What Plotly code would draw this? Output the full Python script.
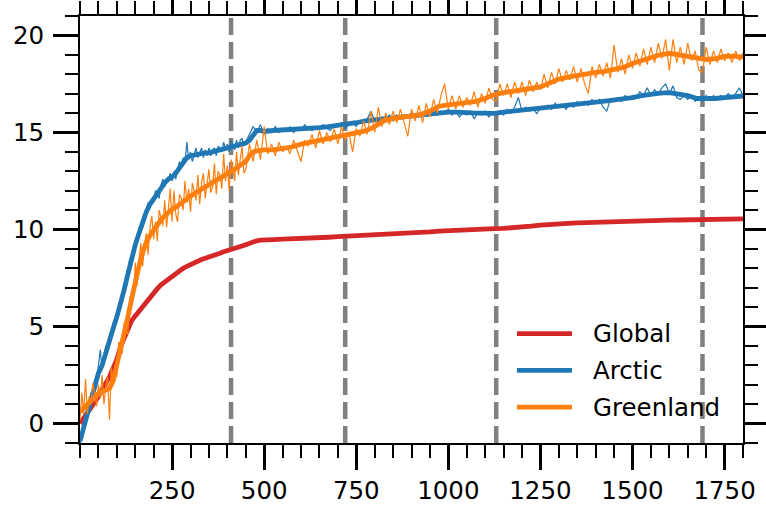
import numpy as np
import plotly.graph_objects as go

# ---- sample years -------------------------------------------------------
# 5 yr sampling early on, decadal afterwards for the raw series
years_raw = np.concatenate([np.arange(0, 450, 5), np.arange(450, 1801, 10)])
# smoothed series: 10 yr up to 500, 25 yr afterwards
years_smooth = np.concatenate([np.arange(0, 501, 10), np.arange(525, 1801, 25)])

# ---- raw (unsmoothed) series -------------------------------------------
arctic_raw = [
    -1.3, -0.3, -0.3, 0.4, 0.3, 1.0, 1.6, 1.4, 2.3, 2.2,
    3.0, 3.8, 2.8, 3.4, 4.0, 3.7, 4.5, 4.5, 5.2, 5.3,
    5.2, 6.0, 6.2, 6.3, 7.2, 7.2, 7.9, 8.5, 8.2, 8.9,
    9.4, 9.3, 10.1, 10.0, 10.1, 10.8, 11.0, 11.4, 11.1, 11.5,
    11.4, 12.0, 11.9, 11.6, 12.3, 12.6, 12.2, 12.6, 12.5, 12.9,
    12.5, 13.0, 12.6, 13.1, 13.5, 13.2, 13.7, 13.4, 14.5, 13.6,
    14.0, 13.5, 13.9, 14.2, 13.7, 14.0, 14.2, 13.7, 14.1, 13.8,
    14.2, 13.8, 14.1, 14.2, 13.8, 14.3, 14.2, 14.0, 14.5, 14.1,
    14.4, 14.0, 14.6, 14.4, 14.1, 14.6, 14.2, 14.6, 14.7, 14.3,
    # decadal from 450
    14.5, 14.9, 15.3, 15.0, 15.4, 14.9, 15.2, 15.0, 15.3, 15.0,
    15.2, 15.1, 15.3, 15.0, 15.2, 15.1, 15.4, 15.2, 15.1, 15.3,
    15.2, 15.4, 15.2, 15.1, 15.4, 15.3, 15.5, 15.2, 15.4, 15.5,
    15.3, 15.6, 15.5, 15.7, 16.1, 15.6, 15.5, 15.8, 15.6, 15.9,
    15.6, 15.9, 15.7, 15.9, 15.8, 16.0, 15.8, 16.0, 15.9, 16.1,
    15.9, 16.2, 15.9, 16.1, 16.0, 16.2, 15.9, 16.1, 15.8, 16.0,
    15.9, 16.1, 15.7, 16.0, 15.9, 16.1, 15.8, 16.0, 15.9, 16.1,
    15.9, 16.2, 16.0, 16.3, 16.8, 16.1, 16.3, 16.1, 16.3, 15.95,
    16.3, 16.2, 16.4, 16.2, 16.5, 16.3, 16.4, 16.2, 16.5, 16.3,
    16.6, 16.4, 16.6, 16.4, 16.7, 16.5, 16.7, 16.3, 16.1, 16.7,
    16.6, 16.8, 16.6, 16.9, 16.7, 16.9, 16.8, 17.1, 16.9, 17.3,
    16.9, 17.2, 17.0, 17.3, 17.5, 17.0, 17.4, 16.8, 16.7, 16.9,
    16.7, 16.9, 16.6, 16.8, 16.6, 16.9, 16.7, 16.9, 16.7, 16.9,
    16.8, 17.0, 16.8, 17.0, 17.3, 16.9,
]

greenland_raw = [
    0.2, 1.6, 0.5, 2.3, 0.5, 1.4, 1.0, 2.1, 1.5, 0.9,
    2.0, 1.3, 2.5, 1.0, 1.9, 2.4, 0.2, 2.9, 2.0, 3.0,
    2.4, 4.2, 4.1, 3.6, 5.2, 4.8, 4.6, 6.5, 6.6, 6.4,
    8.3, 7.1, 8.4, 9.3, 8.1, 9.2, 9.8, 8.7, 10.1, 10.7,
    9.5, 10.4, 9.4, 11.0, 10.6, 10.2, 11.5, 10.1, 11.1, 12.1,
    10.4, 12.0, 10.8, 10.4, 11.8, 11.6, 11.0, 12.5, 11.4, 12.1,
    10.9, 12.4, 12.0, 11.5, 12.8, 11.3, 12.4, 12.9, 11.6, 12.4,
    13.1, 11.9, 12.2, 13.4, 11.8, 13.0, 12.8, 12.1, 13.9, 12.5,
    13.3, 12.0, 13.6, 13.2, 12.5, 14.0, 12.8, 13.6, 14.3, 12.9,
    # decadal from 450
    13.1, 14.4, 13.5, 14.6, 13.6, 15.3, 13.9, 14.4, 13.8, 14.5,
    14.0, 14.3, 13.9, 14.6, 14.1, 13.5, 14.6, 14.3, 14.9, 14.2,
    15.1, 14.4, 15.0, 14.5, 15.2, 14.4, 15.3, 14.6, 15.0, 14.0,
    15.2, 14.8, 15.6, 14.9, 16.1, 15.0, 16.3, 15.3, 16.0, 15.4,
    16.1, 15.5, 16.2, 15.5, 14.8, 16.2, 15.6, 16.4, 15.5, 16.5,
    15.8, 16.7, 16.0, 16.9, 17.5, 16.2, 16.9, 16.2, 16.9, 16.3,
    16.8, 16.4, 17.1, 16.3, 17.0, 16.5, 17.3, 16.7, 16.6, 17.5,
    16.9, 17.5, 16.8, 17.6, 17.0, 17.6, 16.9, 17.7, 17.1, 17.6,
    17.2, 18.0, 17.3, 18.1, 17.5, 18.3, 17.6, 18.2, 17.7, 18.4,
    17.6, 18.3, 17.5, 17.0, 18.4, 17.8, 18.5, 17.9, 18.6, 17.8,
    19.5, 18.1, 18.8, 18.0, 19.0, 18.3, 19.1, 18.4, 19.3, 18.5,
    19.4, 18.6, 19.6, 18.8, 19.8, 18.2, 19.8, 18.6, 19.4, 18.5,
    19.6, 18.7, 19.2, 18.2, 18.1, 19.4, 18.5, 19.2, 18.6, 19.3,
    18.7, 19.1, 18.6, 19.2, 18.7, 19.1,
]

# ---- smoothed series ----------------------------------------------------
global_smooth = [
    0.0, 0.25, 0.55, 0.8, 1.1, 1.4, 1.7, 2.0, 2.4, 2.85,
    3.3, 3.95, 4.45, 4.95, 5.3, 5.55, 5.8, 6.05, 6.25, 6.5,
    6.75, 6.95, 7.15, 7.3, 7.45, 7.6, 7.75, 7.9, 8.0, 8.1,
    8.2, 8.3, 8.38, 8.45, 8.52, 8.6, 8.66, 8.72, 8.78, 8.85,
    8.9, 8.96, 9.02, 9.08, 9.15, 9.22, 9.3, 9.37, 9.42, 9.45, 9.47,
    9.48, 9.5, 9.51, 9.52, 9.55, 9.58, 9.6, 9.63, 9.65, 9.68,
    9.72, 9.75, 9.77, 9.79, 9.8, 9.82, 9.85, 9.88, 9.92, 9.95,
    9.98, 10.0, 10.02, 10.03, 10.05, 10.06, 10.08, 10.12, 10.17, 10.22,
    10.27, 10.3, 10.32, 10.34, 10.36, 10.38, 10.4, 10.42, 10.43, 10.44,
    10.45, 10.46, 10.47, 10.48, 10.49, 10.5, 10.5, 10.51, 10.52, 10.53,
    10.54, 10.55,
]

arctic_smooth = [
    -0.9, -0.2, 0.5, 1.3, 2.1, 2.6, 3.0, 3.7, 4.3, 4.9,
    5.5, 6.1, 6.9, 7.7, 8.5, 9.2, 9.8, 10.4, 10.9, 11.3,
    11.6, 11.8, 12.1, 12.4, 12.6, 12.7, 12.9, 13.2, 13.5, 13.7,
    13.8, 13.85, 13.9, 13.9, 13.95, 13.95, 14.0, 14.05, 14.15, 14.2,
    14.25, 14.3, 14.3, 14.35, 14.4, 14.45, 14.6, 14.9, 15.1, 15.1, 15.05,
    15.1, 15.12, 15.15, 15.2, 15.22, 15.25, 15.3, 15.35, 15.4, 15.5,
    15.6, 15.65, 15.72, 15.8, 15.85, 15.9, 15.95, 16.0, 16.05, 16.05,
    16.05, 16.0, 16.0, 16.0, 15.98, 16.05, 16.1, 16.13, 16.17, 16.2,
    16.25, 16.3, 16.35, 16.42, 16.5, 16.56, 16.62, 16.67, 16.72, 16.8,
    16.9, 16.98, 17.03, 17.05, 17.0, 16.9, 16.75, 16.72, 16.75, 16.8,
    16.85, 16.88,
]

greenland_smooth = [
    0.6, 0.8, 1.0, 1.2, 1.4, 1.55, 1.65, 1.7, 1.8, 2.2,
    3.0, 3.8, 4.5, 5.5, 6.4, 7.3, 8.1, 8.8, 9.35, 9.7,
    10.0, 10.3, 10.5, 10.7, 10.9, 11.05, 11.15, 11.3, 11.45, 11.6,
    11.75, 11.85, 11.95, 12.1, 12.2, 12.3, 12.45, 12.55, 12.65, 12.75,
    12.85, 12.95, 13.1, 13.25, 13.35, 13.5, 13.8, 14.0, 14.05, 14.1, 14.1,
    14.1, 14.15, 14.25, 14.4, 14.5, 14.6, 14.7, 14.78, 14.85, 14.98,
    15.08, 15.3, 15.6, 15.72, 15.8, 15.85, 15.92, 16.1, 16.35, 16.42,
    16.5, 16.55, 16.6, 16.75, 16.95, 17.05, 17.12, 17.2, 17.27, 17.35,
    17.55, 17.75, 17.85, 17.95, 18.02, 18.1, 18.15, 18.22, 18.35, 18.55,
    18.7, 18.85, 19.0, 19.08, 19.0, 18.93, 18.83, 18.76, 18.8, 18.92,
    18.93, 18.88,
]

# years marked with dashed vertical lines
event_years = [410, 720, 1130, 1690]

x_ticks = [250, 500, 750, 1000, 1250, 1500, 1750]
y_ticks = [0, 5, 10, 15, 20]

series_names = ["Global", "Arctic", "Greenland"]
series_colors = ["#d62728", "#1f77b4", "#ff7f0e"]

FONT = "DejaVu Sans"
THICK = 4.8
THIN = 1.2

fig = go.Figure()

fig.add_trace(go.Scatter(x=years_smooth, y=global_smooth, mode="lines",
                         line=dict(color=series_colors[0], width=THICK),
                         showlegend=False))
fig.add_trace(go.Scatter(x=years_raw, y=arctic_raw, mode="lines",
                         line=dict(color=series_colors[1], width=THIN),
                         showlegend=False))
fig.add_trace(go.Scatter(x=years_smooth, y=arctic_smooth, mode="lines",
                         line=dict(color=series_colors[1], width=THICK),
                         showlegend=False))
fig.add_trace(go.Scatter(x=years_raw, y=greenland_raw, mode="lines",
                         line=dict(color=series_colors[2], width=THIN),
                         showlegend=False))
fig.add_trace(go.Scatter(x=years_smooth, y=greenland_smooth, mode="lines",
                         line=dict(color=series_colors[2], width=THICK),
                         showlegend=False))

# dashed markers behind the data
for yr in event_years:
    fig.add_shape(type="line", x0=yr, x1=yr, xref="x", y0=0, y1=1, yref="paper",
                  line=dict(color="#808080", width=4.5, dash="17px,7px"),
                  layer="below")

# hand-built legend (longer line samples than the built-in one)
legend_rows = [0.256, 0.170, 0.084]
for name, color, ly in zip(series_names, series_colors, legend_rows):
    fig.add_shape(type="line", xref="paper", yref="paper",
                  x0=0.659, x1=0.742, y0=ly, y1=ly,
                  line=dict(color=color, width=THICK))
    fig.add_annotation(xref="paper", yref="paper", x=0.770, y=ly,
                       text=name, showarrow=False, xanchor="left",
                       yanchor="middle", font=dict(family=FONT, size=24.5, color="black"))

axis_common = dict(
    showline=True, linecolor="black", linewidth=2, mirror="ticks",
    ticks="outside", ticklen=25, tickwidth=3, tickcolor="black",
    showgrid=False, zeroline=False, automargin=False,
    tickfont=dict(family=FONT, size=24.5, color="black"),
)

fig.update_xaxes(range=[0, 1800], tickmode="array", tickvals=x_ticks,
                 minor=dict(ticks="outside", ticklen=13, tickwidth=1.5,
                            tickcolor="black", dtick=50, tick0=0, showgrid=False),
                 **axis_common)
fig.update_yaxes(range=[-1, 21], tickmode="array", tickvals=y_ticks,
                 ticklabelstandoff=4,
                 minor=dict(ticks="outside", ticklen=13, tickwidth=1.5,
                            tickcolor="black", dtick=1, tick0=0, showgrid=False),
                 **axis_common)

fig.update_layout(
    width=766, height=507,
    margin=dict(l=80, r=23, t=16, b=64),
    plot_bgcolor="white", paper_bgcolor="white",
    font=dict(family=FONT, size=24.5, color="black"),
)

fig.write_html("out.html")
